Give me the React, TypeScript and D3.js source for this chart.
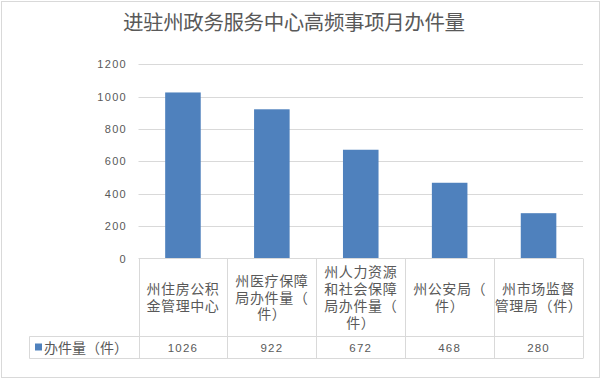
import React from "react";
import * as d3 from "d3";

const title = "进驻州政务服务中心高频事项月办件量";
const categories = [
  "州住房公积金管理中心",
  "州医疗保障局办件量（件）",
  "州人力资源和社会保障局办件量（件）",
  "州公安局（件）",
  "州市场监督管理局（件）",
];
const categoryLines = [
  ["州住房公积", "金管理中心"],
  ["州医疗保障", "局办件量（", "件）"],
  ["州人力资源", "和社会保障", "局办件量（", "件）"],
  ["州公安局（", "件）"],
  ["州市场监督", "管理局（件）"],
];
const seriesName = "办件量（件）";
const values = [1026, 922, 672, 468, 280];
const yTicks = [0, 200, 400, 600, 800, 1000, 1200];

const W = 602;
const H = 379;
const plotLeft = 138.5;
const plotRight = 583;
const plotTop = 64.3;
const plotBottom = 258.5;
const headerBottom = 336.5;
const rowBottom = 358.5;
const legendLeft = 29.5;

const GRID = "#d9d9d9";
const TXT = "#595959";
const BAR = "#4f81bd";
const CJK = "'Noto Sans CJK SC', 'Noto Sans', sans-serif";
const NUM = "'Liberation Sans', Arial, sans-serif";

export default function App() {
  const x = d3
    .scaleBand<string>()
    .domain(categories)
    .range([plotLeft, plotRight])
    .paddingInner(0.6)
    .paddingOuter(0.3);
  const y = d3.scaleLinear().domain([0, 1200]).range([plotBottom, plotTop]);
  const colStep = (plotRight - plotLeft) / categories.length;
  const colEdges = d3.range(categories.length + 1).map((i) => plotLeft + i * colStep);
  const lineH = 16.8;
  const headerMid = (plotBottom + headerBottom) / 2;

  return (
    <svg
      width={W}
      height={H}
      style={{ position: "absolute", left: 0, top: 0, background: "#fff" }}
    >
      <rect x={1.5} y={1.5} width={598} height={376} fill="#fff" stroke={GRID} strokeWidth={1} />
      <text
        x={294}
        y={30}
        textAnchor="middle"
        fontFamily={CJK}
        fontSize={20.5}
        fill={TXT}
        textLength={342}
        lengthAdjust="spacing"
      >
        {title}
      </text>

      {yTicks.map((t) => (
        <g key={t}>
          {t > 0 && (
            <line x1={plotLeft} x2={plotRight} y1={Math.round(y(t)) + 0.5} y2={Math.round(y(t)) + 0.5} stroke={GRID} strokeWidth={1} />
          )}
          <text
            x={127}
            y={y(t) + 4}
            textAnchor="end"
            fontFamily={NUM}
            fontSize={11}
            letterSpacing={1.3}
            fill={TXT}
          >
            {t}
          </text>
        </g>
      ))}

      {categories.map((c, i) => (
        <rect key={c} x={x(c)!} y={y(values[i])} width={x.bandwidth()} height={y(0) - y(values[i])} fill={BAR} />
      ))}

      {/* data table */}
      <line x1={plotLeft} x2={plotRight} y1={plotBottom} y2={plotBottom} stroke={GRID} />
      <line x1={legendLeft} x2={plotRight} y1={headerBottom} y2={headerBottom} stroke={GRID} />
      <line x1={legendLeft} x2={plotRight} y1={rowBottom} y2={rowBottom} stroke={GRID} />
      <line x1={legendLeft} x2={legendLeft} y1={headerBottom} y2={rowBottom} stroke={GRID} />
      {colEdges.map((e, i) => (
        <line key={i} x1={Math.round(e) + 0.5} x2={Math.round(e) + 0.5} y1={plotBottom} y2={rowBottom} stroke={GRID} />
      ))}

      {categories.map((c, i) => {
        const cx = plotLeft + (i + 0.5) * colStep;
        const lines = categoryLines[i];
        const start = headerMid - ((lines.length - 1) * lineH) / 2;
        return (
          <g key={c}>
            <text
              textAnchor="middle"
              fontFamily={CJK}
              fontSize={14}
              letterSpacing={0.6}
              fill={TXT}
            >
              {lines.map((l, j) => (
                <tspan key={j} x={cx} y={start + j * lineH + 5}>
                  {l}
                </tspan>
              ))}
            </text>
            <text
              x={cx}
              y={(headerBottom + rowBottom) / 2 + 4}
              textAnchor="middle"
              fontFamily={NUM}
              fontSize={11.5}
              letterSpacing={1.2}
              fill={TXT}
            >
              {values[i]}
            </text>
          </g>
        );
      })}

      <rect x={35} y={343.5} width={7} height={7} fill={BAR} />
      <text
        x={44}
        y={352.5}
        fontFamily={CJK}
        fontSize={14}
        letterSpacing={0}
        fill={TXT}
      >
        {seriesName}
      </text>
    </svg>
  );
}
